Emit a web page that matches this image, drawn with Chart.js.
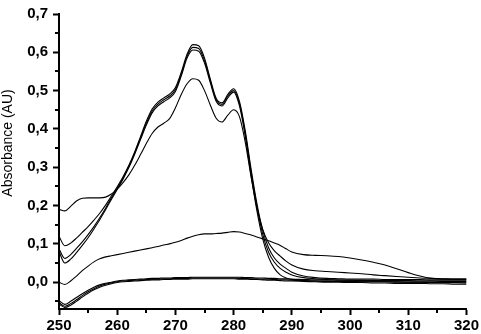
<!DOCTYPE html>
<html>
<head>
<meta charset="utf-8">
<script src="https://cdn.jsdelivr.net/npm/chart.js@4"></script>
<style>
  html, body { margin:0; padding:0; background:#fff; }
  canvas { display:block; }
</style>
</head>
<body>
<canvas id="chart" width="481" height="334"></canvas>
<script>
// wavelength (nm)
const wavelength = [
  250,251,252,253,254,255,256,257,258,259,
  260,261,262,263,264,265,266,267,268,269,
  270,271,272,273,274,275,276,277,278,279,
  280,281,282,283,284,285,286,287,288,289,
  290,292,294,296,298,300,302,304,306,308,
  310,312,314,316,318,320
];

const xTicks = [250,260,270,280,290,300,310,320];
const xMinor = [255,265,275,285,295,305,315];
const yTicks = [0,0.1,0.2,0.3,0.4,0.5,0.6,0.7];
const yMinor = [-0.05,0.05,0.15,0.25,0.35,0.45,0.55,0.65];

// upper bundle (three nearly identical spectra)
const specA1 = [
  0.120,0.095,0.102,0.115,0.130,0.145,0.162,0.180,0.201,0.225,
  0.249,0.275,0.305,0.340,0.380,0.420,0.452,0.470,0.481,0.491,
  0.508,0.548,0.595,0.620,0.617,0.585,0.530,0.480,0.468,0.490,
  0.505,0.472,0.395,0.295,0.205,0.135,0.090,0.063,0.047,0.036,
  0.026,0.016,0.012,0.010,0.009,0.008,0.008,0.008,0.007,0.007,
  0.007,0.007,0.006,0.006,0.006,0.006
];
const specA2 = [
  0.087,0.062,0.072,0.088,0.105,0.124,0.145,0.168,0.193,0.220,
  0.245,0.272,0.302,0.337,0.376,0.415,0.447,0.465,0.476,0.486,
  0.503,0.543,0.590,0.613,0.610,0.578,0.525,0.476,0.464,0.486,
  0.500,0.466,0.388,0.288,0.197,0.125,0.078,0.052,0.036,0.026,
  0.019,0.012,0.009,0.007,0.006,0.005,0.005,0.004,0.004,0.004,
  0.004,0.003,0.003,0.003,0.003,0.003
];
const specA3 = [
  0.080,0.050,0.060,0.077,0.096,0.116,0.139,0.163,0.189,0.216,
  0.242,0.269,0.299,0.334,0.372,0.410,0.442,0.460,0.471,0.481,
  0.498,0.538,0.585,0.606,0.603,0.572,0.520,0.472,0.460,0.481,
  0.496,0.460,0.380,0.278,0.186,0.113,0.065,0.036,0.019,0.011,
  0.007,0.004,0.003,0.002,0.002,0.002,0.001,0.001,0.001,0.001,
  0.000,0.000,0.000,0.000,0.000,0.000
];
// lower-peak spectrum with raised start
const specB = [
  0.190,0.186,0.198,0.212,0.219,0.220,0.220,0.220,0.222,0.230,
  0.243,0.260,0.280,0.305,0.333,0.362,0.388,0.405,0.415,0.427,
  0.455,0.490,0.518,0.531,0.527,0.500,0.462,0.428,0.418,0.436,
  0.450,0.432,0.365,0.275,0.195,0.138,0.103,0.082,0.068,0.055,
  0.045,0.034,0.030,0.028,0.026,0.024,0.022,0.019,0.017,0.015,
  0.013,0.011,0.010,0.009,0.008,0.008
];
// broad low spectrum
const specC = [
  0.000,-0.006,0.003,0.016,0.030,0.042,0.053,0.061,0.066,0.069,
  0.072,0.075,0.078,0.081,0.084,0.087,0.090,0.093,0.097,0.100,
  0.104,0.109,0.115,0.120,0.124,0.126,0.126,0.127,0.128,0.130,
  0.132,0.131,0.127,0.123,0.118,0.113,0.108,0.102,0.096,0.087,
  0.079,0.072,0.070,0.069,0.067,0.063,0.058,0.052,0.045,0.035,
  0.025,0.016,0.010,0.008,0.008,0.008
];
// flat bundle near zero
const specD1 = [
  -0.048,-0.058,-0.050,-0.040,-0.030,-0.021,-0.013,-0.007,-0.003,0.000,
  0.003,0.005,0.006,0.007,0.008,0.009,0.010,0.010,0.011,0.011,
  0.012,0.012,0.012,0.013,0.013,0.013,0.013,0.013,0.013,0.013,
  0.013,0.013,0.012,0.012,0.011,0.011,0.010,0.010,0.009,0.009,
  0.008,0.007,0.006,0.006,0.005,0.005,0.004,0.004,0.004,0.003,
  0.003,0.003,0.003,0.002,0.002,0.002
];
const specD2 = [
  -0.053,-0.063,-0.056,-0.046,-0.035,-0.025,-0.017,-0.010,-0.005,-0.002,
  0.001,0.003,0.004,0.005,0.006,0.007,0.008,0.008,0.009,0.009,
  0.010,0.010,0.010,0.011,0.011,0.011,0.011,0.011,0.011,0.011,
  0.011,0.010,0.010,0.009,0.009,0.008,0.008,0.007,0.006,0.006,
  0.005,0.004,0.003,0.003,0.002,0.002,0.001,0.001,0.001,0.000,
  0.000,0.000,-0.001,-0.001,-0.001,-0.002
];
const specD3 = [
  -0.057,-0.066,-0.060,-0.050,-0.039,-0.029,-0.020,-0.013,-0.008,-0.004,
  -0.001,0.001,0.002,0.003,0.004,0.005,0.006,0.006,0.007,0.007,
  0.008,0.008,0.008,0.009,0.009,0.009,0.009,0.009,0.009,0.009,
  0.009,0.008,0.008,0.007,0.007,0.006,0.005,0.005,0.004,0.003,
  0.003,0.002,0.001,0.000,0.000,-0.001,-0.001,-0.002,-0.002,-0.003,
  -0.003,-0.003,-0.004,-0.004,-0.005,-0.005
];

const spectra = [specA1, specA2, specA3, specB, specC, specD1, specD2, specD3];
const FONT = '"Liberation Sans", Arial, sans-serif';

// minor ticks + rotated y title
const extras = {
  id: "extras",
  afterDraw(chart) {
    const ctx = chart.ctx, x = chart.scales.x, y = chart.scales.y;
    ctx.save();
    ctx.strokeStyle = "#000";
    ctx.lineWidth = 2;
    ctx.beginPath();
    xMinor.forEach(v => {
      const px = Math.round(x.getPixelForValue(v));
      ctx.moveTo(px, y.bottom); ctx.lineTo(px, y.bottom + 4);
    });
    yMinor.forEach(v => {
      const py = Math.round(y.getPixelForValue(v));
      ctx.moveTo(x.left, py); ctx.lineTo(x.left - 4, py);
    });
    ctx.stroke();
    ctx.translate(8, 143);
    ctx.rotate(-Math.PI / 2);
    ctx.font = "14px " + FONT;
    ctx.fillStyle = "#000";
    ctx.textAlign = "center";
    ctx.textBaseline = "middle";
    ctx.fillText("Absorbance (AU)", 0, 0);
    ctx.restore();
  }
};

const axisCommon = {
  grid: { drawOnChartArea:false, drawTicks:true, tickLength:6, tickWidth:2, tickColor:"#000" },
  border: { display:true, color:"#000", width:2 }
};

new Chart(document.getElementById("chart"), {
  type: "line",
  data: {
    datasets: spectra.map(s => ({
      data: s.map((v, i) => ({ x: wavelength[i], y: v })),
      borderColor: "#000",
      borderWidth: 1.1,
      pointRadius: 0,
      fill: false,
      cubicInterpolationMode: "monotone"
    }))
  },
  options: {
    responsive: false,
    animation: false,
    devicePixelRatio: 1,
    layout: { padding: { top:8, right:13, left:0, bottom:0 } },
    plugins: { legend:{display:false}, tooltip:{enabled:false} },
    scales: {
      x: {
        type: "linear", min: 250, max: 320,
        afterBuildTicks: s => { s.ticks = xTicks.map(v => ({ value:v })); },
        afterFit: s => { s.height = 25; },
        ticks: { color:"#000", padding:2, maxRotation:0, autoSkip:false,
                 font:{ family:FONT, size:15, weight:"bold" } },
        ...axisCommon
      },
      y: {
        min: -0.07, max: 0.7,
        afterBuildTicks: s => { s.ticks = yTicks.map(v => ({ value:v })); },
        afterFit: s => { s.width = 59; },
        ticks: { color:"#000", padding:5, autoSkip:false,
                 font:{ family:FONT, size:15, weight:"bold" },
                 callback: v => v.toFixed(1).replace(".", ",") },
        ...axisCommon
      }
    }
  },
  plugins: [extras]
});
</script>
</body>
</html>
